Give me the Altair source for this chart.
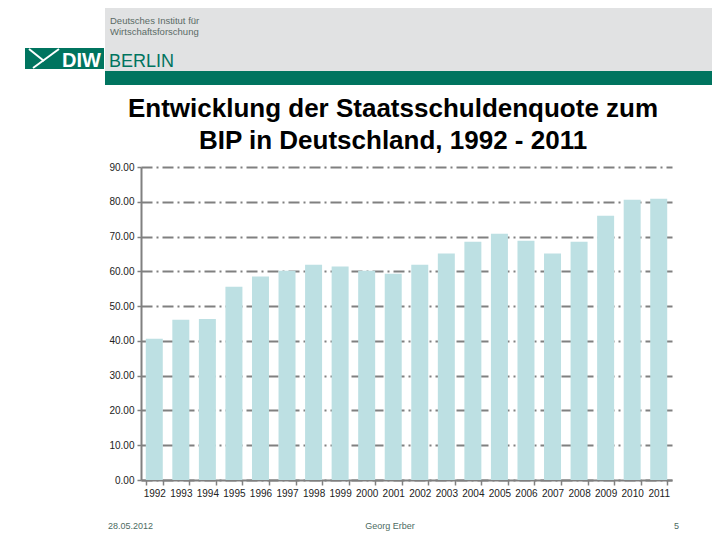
import altair as alt
import pandas as pd

# ---------------- data ----------------
years = [str(y) for y in range(1992, 2012)]
quote = [40.6, 46.1, 46.3, 55.6, 58.5, 60.2, 61.9, 61.4, 60.2, 59.3,
         61.9, 65.1, 68.5, 70.8, 68.8, 65.1, 68.5, 76.0, 80.6, 80.9]
y_ticks = [0, 10, 20, 30, 40, 50, 60, 70, 80, 90]

title_lines = ["Entwicklung der Staatsschuldenquote zum",
               "BIP in Deutschland, 1992 - 2011"]
footer_date = "28.05.2012"
footer_author = "Georg Erber"
footer_page = "5"

df = pd.DataFrame({"Jahr": years, "Quote": quote})

# ---------------- layout helpers (page px -> plot px) ----------------
PX0, PY0 = 141, 167
W, H = 531, 313


def px(x):
    return x - PX0


def py(y):
    return y - PY0


one = alt.Data(values=[{"k": 0}])
GREEN = "#00745f"
GREY = "#e1e2e3"
FONT = "Liberation Sans"


def rect(x1, y1, x2, y2, color):
    return alt.Chart(one).mark_rect(color=color).encode(
        x=alt.value(px(x1)), x2=alt.value(px(x2)),
        y=alt.value(py(y1)), y2=alt.value(py(y2)))


def line(x1, y1, x2, y2, color, w=2):
    return alt.Chart(one).mark_rule(color=color, strokeWidth=w).encode(
        x=alt.value(px(x1)), x2=alt.value(px(x2)),
        y=alt.value(py(y1)), y2=alt.value(py(y2)))


def label(text, x, y, size, color, weight="normal", align="left"):
    return alt.Chart(one).mark_text(
        text=text, font=FONT, fontSize=size, color=color,
        fontWeight=weight, align=align, baseline="alphabetic").encode(
        x=alt.value(px(x)), y=alt.value(py(y)))


# ---------------- header ----------------
header = [
    rect(105, 0, 720, 71, GREY),
    rect(105, 71, 720, 85, GREEN),
    rect(25, 48, 104, 69, GREEN),
    line(29, 49, 44, 61, "white", 2),
    line(33, 68, 59, 49, "white", 2),
    label("DIW", 62, 67, 20, "white", "bold"),
    label("BERLIN", 109, 67, 18, GREEN),
    label("Deutsches Institut für", 110, 24, 9.5, "#5b6b66"),
    label("Wirtschaftsforschung", 110, 35, 9.5, "#5b6b66"),
]

# ---------------- title ----------------
titles = [
    label(title_lines[0], 393, 117, 26, "black", "bold", "center"),
    label(title_lines[1], 393, 149, 26, "black", "bold", "center"),
]

# ---------------- footer ----------------
footer = [
    label(footer_date, 108, 529, 9, "#4d6b62"),
    label(footer_author, 390, 529, 9, "#4d6b62", "normal", "center"),
    label(footer_page, 674, 529, 9, "#4d6b62"),
]

# ---------------- bars ----------------
bars = alt.Chart(df).mark_bar(color="#bde0e3").encode(
    x=alt.X("Jahr:N", sort=years,
            scale=alt.Scale(paddingInner=0.36, paddingOuter=0.18),
            axis=alt.Axis(title=None, labelAngle=0, tickBand="extent",
                          grid=False, tickSize=5, labelPadding=3)),
    y=alt.Y("Quote:Q",
            scale=alt.Scale(domain=[0, 90], nice=False, zero=True),
            axis=alt.Axis(title=None, values=y_ticks, format=".2f",
                          grid=True, gridColor="#808080", gridWidth=2,
                          gridDash=[11, 4, 2, 4], gridOpacity=1,
                          tickSize=4, labelPadding=3)),
)

chart = alt.layer(*header, *titles, bars, *footer).properties(
    width=W, height=H,
    autosize=alt.AutoSizeParams(type="none"),
    padding={"left": 133, "top": 159, "right": 40, "bottom": 52},
).configure_view(stroke=None).configure_axis(
    domainColor="#808080", domainWidth=2,
    tickColor="#808080", tickWidth=1.5,
    labelFont=FONT, labelFontSize=10, labelColor="#222222",
)

chart.save("out.html", embed_options={"renderer": "svg", "actions": False})
